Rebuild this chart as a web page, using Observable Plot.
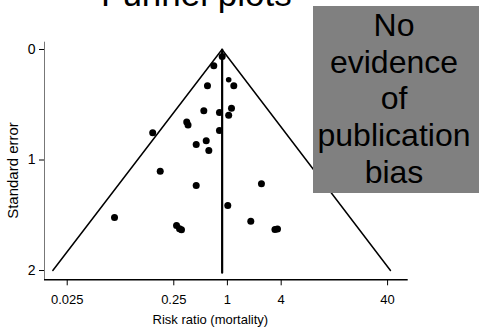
<!DOCTYPE html>
<html>
<head>
<meta charset="utf-8">
<script src="https://cdn.jsdelivr.net/npm/d3@7"></script>
<script src="https://cdn.jsdelivr.net/npm/@observablehq/plot@0.6"></script>
<style>
  html, body { margin: 0; padding: 0; background: #fff; }
  #wrap { position: relative; width: 483px; height: 329px; overflow: hidden; font-family: "Liberation Sans", Arial, sans-serif; }
  #title { position: absolute; left: 101px; top: -24px; font-size: 35px; line-height: 36px; white-space: nowrap; color: #000; }
  #note { position: absolute; left: 313px; top: 6px; width: 166px; padding-right: 4px; height: 187px; background: #808080; color: #000;
          font-size: 32px; line-height: 36.7px; text-align: center; padding-top: 1px; box-sizing: border-box; }
  #chart { position: absolute; left: 0; top: 0; }
</style>
</head>
<body>
<div id="wrap">
  <div id="chart"></div>
  <div id="title">Funnel plots</div>
  <div id="note">No<br>evidence<br>of<br>publication<br>bias</div>
</div>
<script>
// Study estimates
const riskRatio = [0.887, 0.731, 1.03, 1.159, 0.632, 1.099, 0.581, 0.833, 1.03, 0.392, 0.404, 0.179, 0.833, 0.614, 0.4875, 0.652, 0.213, 0.4875, 2.19, 1.009, 0.0743, 0.310, 0.332, 0.3475, 1.714, 2.99, 3.17];
const stdError  = [0.063, 0.148, 0.274, 0.329, 0.329, 0.531, 0.555, 0.570, 0.595, 0.656, 0.683, 0.754, 0.733, 0.826, 0.860, 0.914, 1.101, 1.231, 1.215, 1.412, 1.520, 1.593, 1.623, 1.632, 1.554, 1.629, 1.624];
const dotSize   = [3.5, 3.5, 2.8, 3.5, 3.5, 3.5, 3.5, 3.5, 3.5, 3.5, 3.5, 3.5, 3.5, 3.5, 3.5, 3.5, 3.5, 3.5, 3.5, 3.5, 3.5, 3.5, 3.5, 3.5, 3.5, 3.5, 3.5];

// Funnel outline and pooled estimate
const funnelRR = [0.01795, 0.883, 42.75];
const funnelSE = [2, 0, 2];
const pooledRR = 0.886;
const pooledSE = [0, 2.02];

// Axis ticks (positions as drawn in the picture) and labels
const xTickPos = [0.025, 0.291, 1, 3.45, 40];
const xTickLabels = ["0.025", "0.25", "1", "4", "40"];
const yTicks = [0, 1, 2];
const xLabel = "Risk ratio (mortality)";
const yLabel = "Standard error";

const studies = riskRatio.map((r, i) => ({rr: r, se: stdError[i], size: dotSize[i]}));
const funnel = funnelRR.map((r, i) => ({rr: r, se: funnelSE[i]}));
const pooled = pooledSE.map(s => ({rr: pooledRR, se: s}));
const xTicks = xTickPos.map((p, i) => ({pos: p, label: xTickLabels[i]}));

const xDomain = [0.01482, 64.3];
const yDomain = [-0.066, 2.084];

const chart = Plot.plot({
  width: 483,
  height: 329,
  marginLeft: 44,
  marginRight: 75.3,
  marginTop: 41.7,
  marginBottom: 49.7,
  style: {fontFamily: '"Liberation Sans", Arial, sans-serif', fontSize: "13px", color: "#000", background: "transparent", overflow: "visible"},
  x: {type: "log", domain: xDomain},
  y: {domain: yDomain, reverse: true},
  r: {type: "identity"},
  marks: [
    Plot.ruleX([xDomain[0]], {stroke: "#777", strokeWidth: 1}),
    Plot.ruleY([yDomain[1]], {stroke: "#000", strokeWidth: 1.5}),
    Plot.axisX({ticks: xTickPos, tickFormat: () => "", tickSize: 6, label: null}),
    Plot.text(xTicks, {x: "pos", text: "label", frameAnchor: "bottom", textAnchor: "middle", lineAnchor: "top", dy: 15, fontSize: 13}),
    Plot.axisY({ticks: yTicks, tickFormat: d => String(d), tickSize: 5, tickPadding: 4, label: null, fontSize: 14}),
    Plot.line(funnel, {x: "rr", y: "se", stroke: "#000", strokeWidth: 1.5}),
    Plot.line(pooled, {x: "rr", y: "se", stroke: "#000", strokeWidth: 2.2}),
    Plot.dot(studies, {x: "rr", y: "se", r: "size", fill: "#000", stroke: "none"}),
    Plot.text([xLabel], {text: d => d, frameAnchor: "bottom", textAnchor: "middle", lineAnchor: "middle", dx: -16, dy: 40.5, fontSize: 13}),
    Plot.text([yLabel], {text: d => d, frameAnchor: "left", textAnchor: "middle", lineAnchor: "middle", rotate: -90, dx: -31.7, dy: 9.5, fontSize: 15})
  ]
});
document.getElementById("chart").appendChild(chart);
</script>
</body>
</html>
